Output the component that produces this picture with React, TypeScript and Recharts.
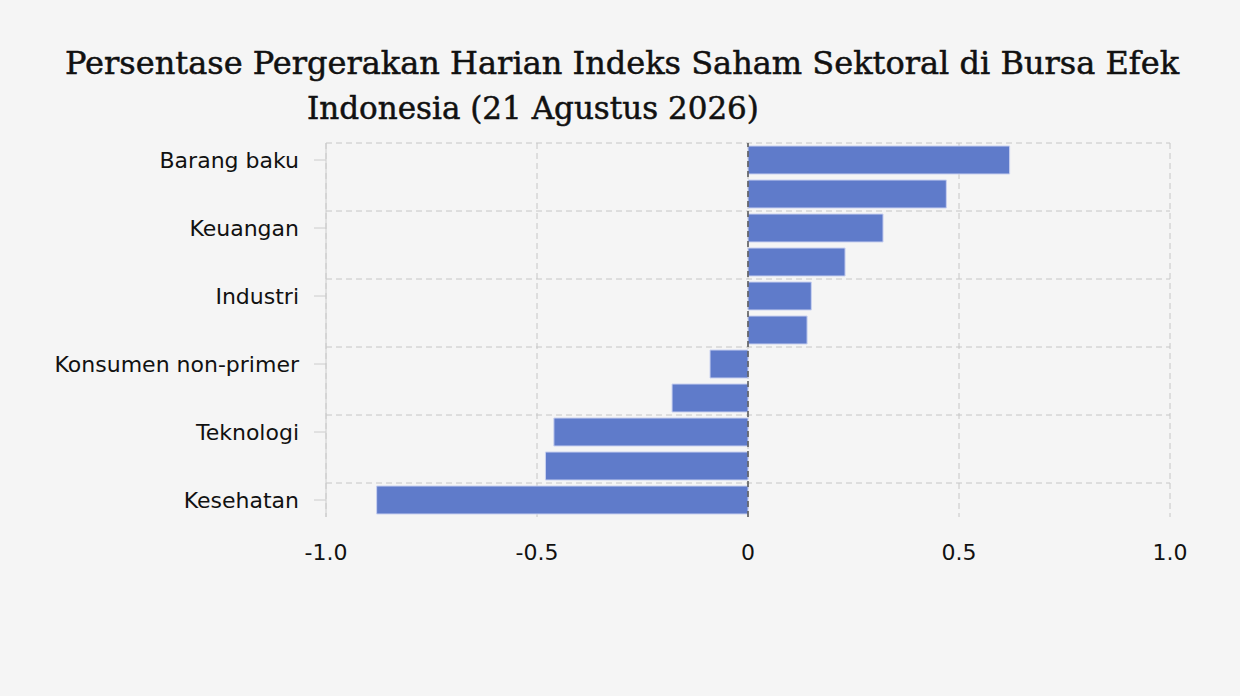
import React from 'react';
import { BarChart, Bar, XAxis, YAxis, CartesianGrid, ReferenceLine } from 'recharts';

const sectors = [
    'Barang baku',
    'Energi',
    'Keuangan',
    'Properti',
    'Industri',
    'Infrastruktur',
    'Konsumen non-primer',
    'Konsumen primer',
    'Teknologi',
    'Transportasi',
    'Kesehatan',
];
const changes = [0.62, 0.47, 0.32, 0.23, 0.15, 0.14, -0.09, -0.18, -0.46, -0.48, -0.88];
const xTicks = [-1, -0.5, 0, 0.5, 1];
const titleLines = [
    'Persentase Pergerakan Harian Indeks Saham Sektoral di Bursa Efek',
    'Indonesia (21 Agustus 2026)',
];

const data = sectors.map((name, i) => ({ name, value: changes[i] }));

const W = 1240;
const H = 696;
const labelFont = '"DejaVu Sans", Verdana, sans-serif';
const titleFont = '"DejaVu Serif", serif';

// grid lines sit on the top edge of every second band
const bandTops = ({ offset }: any) => {
    const step = offset.height / sectors.length;
    return sectors.map((_, i) => offset.top + i * step).filter((_, i) => i % 2 === 0);
};

const fmtTick = (v: number) => (v === 0 ? '0' : v.toFixed(1));

export default function App() {
    return (
        <div style={{ position: 'absolute', left: 0, top: 0, width: W, height: H, background: '#f5f5f5' }}>
            <svg width={W} height={H} style={{ position: 'absolute', left: 0, top: 0 }}>
                <text x={622} y={74} textAnchor="middle" fontFamily={titleFont} fontSize={32} fill="#111" stroke="#111" strokeWidth={0.5}>
                    {titleLines[0]}
                </text>
                <text x={533} y={119} textAnchor="middle" fontFamily={titleFont} fontSize={31} fill="#111" stroke="#111" strokeWidth={0.5}>
                    {titleLines[1]}
                </text>
            </svg>
            <div style={{ position: 'absolute', left: 0, top: 0 }}>
                <BarChart
                    width={W}
                    height={H}
                    data={data}
                    layout="vertical"
                    margin={{ top: 143, right: 70, bottom: 139, left: 66 }}
                    barCategoryGap={3}
                >
                    <CartesianGrid
                        stroke="#c6c6c6"
                        strokeDasharray="6 4"
                        horizontalCoordinatesGenerator={bandTops}
                    />
                    <XAxis
                        type="number"
                        domain={[-1, 1]}
                        ticks={xTicks}
                        tickFormatter={fmtTick}
                        axisLine={false}
                        tickLine={false}
                        height={40}
                        tickMargin={21}
                        tick={{ fill: '#111', fontSize: 22, fontFamily: labelFont }}
                    />
                    <YAxis
                        type="category"
                        dataKey="name"
                        width={260}
                        interval={1}
                        stroke="#cccccc"
                        tickSize={12}
                        tickMargin={15}
                        tick={{ fill: '#111', fontSize: 22, fontFamily: labelFont }}
                    />
                    <Bar dataKey="value" fill="#5f7bca" stroke="#c9d1f0" strokeWidth={1} isAnimationActive={false} />
                    <ReferenceLine x={0} stroke="#555" strokeDasharray="6 4" strokeWidth={1.5} />
                </BarChart>
            </div>
        </div>
    );
}
